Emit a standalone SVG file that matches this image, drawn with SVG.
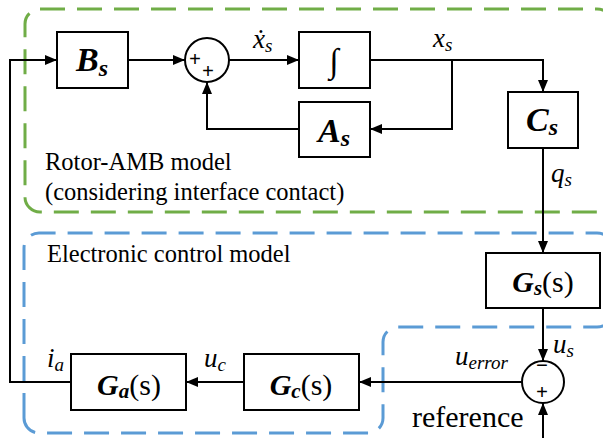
<svg xmlns="http://www.w3.org/2000/svg" width="603" height="438" viewBox="0 0 603 438" font-family="'Liberation Serif', 'Times New Roman', 'DejaVu Serif', serif">
  <defs>
    <marker id="arrow" markerUnits="userSpaceOnUse" markerWidth="13" markerHeight="11" refX="12" refY="5" orient="auto">
      <path d="M0,0 L12,5 L0,10 Z" fill="#000"/>
    </marker>
    <style>
      .box { fill: #fff; stroke: #000; stroke-width: 2; }
      .sum { fill: #fff; stroke: #000; stroke-width: 2; }
      .wire { fill: none; stroke: #000; stroke-width: 2; marker-end: url(#arrow); }
      .region { fill: none; stroke-width: 3; stroke-dasharray: 25 12; }
      text { font-family: 'Liberation Serif', 'Times New Roman', 'DejaVu Serif', serif; fill: #000; }
      .blk { font-weight: bold; font-style: italic; }
      .rom { font-weight: normal; font-style: normal; }
      .sig { font-style: italic; }
      .sign { text-anchor: middle; font-weight: bold; font-size: 21px; }
    </style>
  </defs>

  <!-- subsystem boundaries -->
  <g id="regions">
    <rect class="region" x="25" y="9" width="587" height="203" rx="15" ry="15" stroke="#70AD47"/>
    <path class="region" stroke="#5B9BD5" d="M24,418 V248 A15,15 0 0 1 39,233 H597 A15,15 0 0 1 612,248 V312 A15,15 0 0 1 597,327 H398 A15,15 0 0 0 383,342 V418 A15,15 0 0 1 368,433 H39 A15,15 0 0 1 24,418 Z"/>
    <text x="45" y="170" font-size="24.5">Rotor-AMB model</text>
    <text x="45" y="200" font-size="24.5">(considering interface contact)</text>
    <text x="47" y="262" font-size="24.5">Electronic control model</text>
  </g>

  <!-- signal lines -->
  <g id="connectors">
    <path class="wire" d="M71,382 H10 V60 H57"/>
    <path class="wire" d="M128,60 H185"/>
    <path class="wire" d="M229,60 H299"/>
    <path class="wire" d="M370,60 H543 V92"/>
    <path class="wire" d="M452,60 V129 H370"/>
    <path class="wire" d="M299,129 H207 V82"/>
    <path class="wire" d="M543,148 V253"/>
    <path class="wire" d="M543,308 V361"/>
    <path class="wire" d="M543,438 V403"/>
    <path class="wire" d="M522,382 H359"/>
    <path class="wire" d="M244,382 H186"/>
  </g>

  <!-- signal labels -->
  <g id="labels">
    <text class="sig" x="253" y="48" font-size="27">ẋ<tspan font-size="19" dy="4">s</tspan></text>
    <text class="sig" x="433" y="47" font-size="27">x<tspan font-size="19" dy="4">s</tspan></text>
    <text class="sig" x="551" y="182" font-size="27">q<tspan font-size="19" dy="4">s</tspan></text>
    <text class="sig" x="553" y="353" font-size="27">u<tspan font-size="19" dy="4">s</tspan></text>
    <text class="sig" x="455" y="365" font-size="27">u<tspan font-size="19" dy="4">error</tspan></text>
    <text class="sig" x="204" y="367" font-size="27">u<tspan font-size="19" dy="4">c</tspan></text>
    <text class="sig" x="47" y="367" font-size="27">i<tspan font-size="19" dy="4">a</tspan></text>
    <text x="412" y="427" font-size="30">reference</text>
  </g>

  <g id="Bs">
    <rect class="box" x="57" y="32" width="71" height="56"/>
    <text class="blk" x="92" y="71" font-size="34" text-anchor="middle">B<tspan font-size="24" dy="5">s</tspan></text>
  </g>

  <g id="sum1">
    <circle class="sum" cx="207" cy="60" r="22"/>
    <text class="sign" x="195" y="66">+</text>
    <text class="sign" x="208" y="78">+</text>
  </g>

  <g id="integrator">
    <rect class="box" x="299" y="32" width="71" height="56"/>
    <text x="334" y="72" font-size="34" text-anchor="middle">∫</text>
  </g>

  <g id="As">
    <rect class="box" x="299" y="102" width="71" height="55"/>
    <text class="blk" x="334" y="142" font-size="34" text-anchor="middle">A<tspan font-size="24" dy="4">s</tspan></text>
  </g>

  <g id="Cs">
    <rect class="box" x="508" y="92" width="70" height="56"/>
    <text class="blk" x="542" y="131" font-size="34" text-anchor="middle">C<tspan font-size="24" dy="4">s</tspan></text>
  </g>

  <g id="Gs">
    <rect class="box" x="486" y="253" width="114" height="55"/>
    <text class="blk" x="543" y="292" font-size="30" text-anchor="middle">G<tspan font-size="21" dy="3">s</tspan><tspan class="rom" dy="-3">(s)</tspan></text>
  </g>

  <g id="sum2">
    <circle class="sum" cx="543" cy="382" r="21"/>
    <text class="sign" x="542" y="372">−</text>
    <text class="sign" x="542" y="399">+</text>
  </g>

  <g id="Gc">
    <rect class="box" x="244" y="354" width="115" height="56"/>
    <text class="blk" x="301" y="395" font-size="30" text-anchor="middle">G<tspan font-size="21" dy="3">c</tspan><tspan class="rom" dy="-3">(s)</tspan></text>
  </g>

  <g id="Ga">
    <rect class="box" x="71" y="354" width="115" height="56"/>
    <text class="blk" x="129" y="395" font-size="30" text-anchor="middle">G<tspan font-size="21" dy="3">a</tspan><tspan class="rom" dy="-3">(s)</tspan></text>
  </g>
</svg>
